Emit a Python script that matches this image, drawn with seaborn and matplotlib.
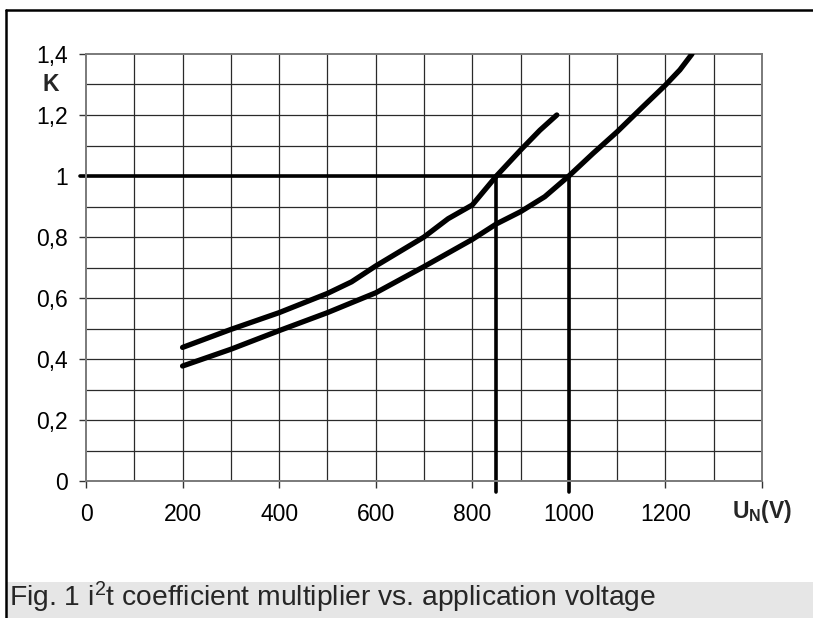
import numpy as np
import pandas as pd
import seaborn as sns
import matplotlib.pyplot as plt
from matplotlib.patches import Rectangle
from matplotlib.lines import Line2D

# curve: upper (left) curve
u_upper = [200, 300, 400, 500, 550, 600, 700, 750, 800, 850, 900, 940, 975]
k_upper = [0.438, 0.497, 0.552, 0.615, 0.653, 0.705, 0.80, 0.86, 0.905, 1.0, 1.085, 1.15, 1.2]

# lower (right) curve
u_lower = [200, 300, 400, 500, 600, 700, 800, 850, 900, 950, 1000, 1050, 1100, 1150, 1200, 1230, 1255]
k_lower = [0.377, 0.432, 0.493, 0.552, 0.617, 0.703, 0.792, 0.843, 0.883, 0.932, 1.0, 1.074,
           1.145, 1.222, 1.298, 1.348, 1.4]

# reference crossing at K = 1
k_ref = 1.0
u_ref = [850, 1000]

x_ticks = [0, 200, 400, 600, 800, 1000, 1200, 1400]
x_labels = ['0', '200', '400', '600', '800', '1000', '1200', '']
y_ticks = [0, 0.2, 0.4, 0.6, 0.8, 1.0, 1.2, 1.4]
y_labels = ['0', '0,2', '0,4', '0,6', '0,8', '1', '1,2', '1,4']

sns.set_style("white")
plt.rcParams['font.family'] = ['Liberation Sans', 'DejaVu Sans']
plt.rcParams['mathtext.fontset'] = 'custom'
plt.rcParams['mathtext.rm'] = 'Liberation Sans'
plt.rcParams['mathtext.it'] = 'Liberation Sans'
plt.rcParams['mathtext.bf'] = 'Liberation Sans:bold'

fig = plt.figure(figsize=(8.13, 6.18), dpi=100)
ax = fig.add_axes([86 / 813, 1 - 481 / 618, 676 / 813, 427 / 618])

# grid every 100 V and every 0.1
for v in np.arange(100, 1400, 100):
    ax.axvline(v, color='#2a2a2a', lw=0.9, zorder=1)
for k in np.arange(0.1, 1.4, 0.1):
    ax.axhline(k, color='#2a2a2a', lw=0.9, zorder=1)

df_up = pd.DataFrame({'U': u_upper, 'K': k_upper})
df_lo = pd.DataFrame({'U': u_lower, 'K': k_lower})
sns.lineplot(data=df_up, x='U', y='K', ax=ax, color='black', lw=3.8, sort=False,
             solid_capstyle='round', zorder=3)
sns.lineplot(data=df_lo, x='U', y='K', ax=ax, color='black', lw=3.8, sort=False,
             solid_capstyle='round', zorder=3)

# reference lines
ax.plot([-12, u_ref[1]], [k_ref, k_ref], color='black', lw=2.6, clip_on=False, zorder=2)
for u in u_ref:
    ax.plot([u, u], [k_ref, -0.036], color='black', lw=2.6, clip_on=False, zorder=2)

ax.set_xlim(0, 1400)
ax.set_ylim(0, 1.4)
ax.set_xticks(x_ticks)
ax.set_xticklabels(x_labels)
ax.set_yticks(y_ticks)
ax.set_yticklabels(y_labels)
ax.tick_params(axis='both', direction='out', length=5, width=1, color='#333333',
               labelsize=16.5, colors='black')
ax.tick_params(axis='x', pad=11, bottom=True)
ax.tick_params(axis='y', pad=8, left=True)
for s in ax.spines.values():
    s.set_color('#7a7a7a')
    s.set_linewidth(1.4)
ax.set_xlabel('')
ax.set_ylabel('')

ax.text(-0.052, 1.3, 'K', transform=ax.get_yaxis_transform(), fontsize=16.5,
        fontweight='bold', ha='center', va='center')
ax.text(1400, -0.1, r'$\mathbf{U_N(V)}$', fontsize=16.5, ha='center', va='center')

# caption band and frame
fig.patches.append(Rectangle((7 / 813, 0), 1, 36 / 618, transform=fig.transFigure,
                             facecolor='#e6e6e6', edgecolor='none', zorder=0))
fig.lines.append(Line2D([6 / 813, 6 / 813], [0, 1 - 9.5 / 618], transform=fig.transFigure,
                        color='black', lw=1.8))
fig.lines.append(Line2D([6 / 813, 1], [1 - 9.5 / 618, 1 - 9.5 / 618], transform=fig.transFigure,
                        color='black', lw=1.8))
fig.text(9 / 813, 12 / 618, r'Fig. 1 i$^{\mathrm{2}}$t coefficient multiplier vs. application voltage',
         fontsize=20.3, ha='left', va='baseline')

fig.savefig('out.png', dpi=100)
